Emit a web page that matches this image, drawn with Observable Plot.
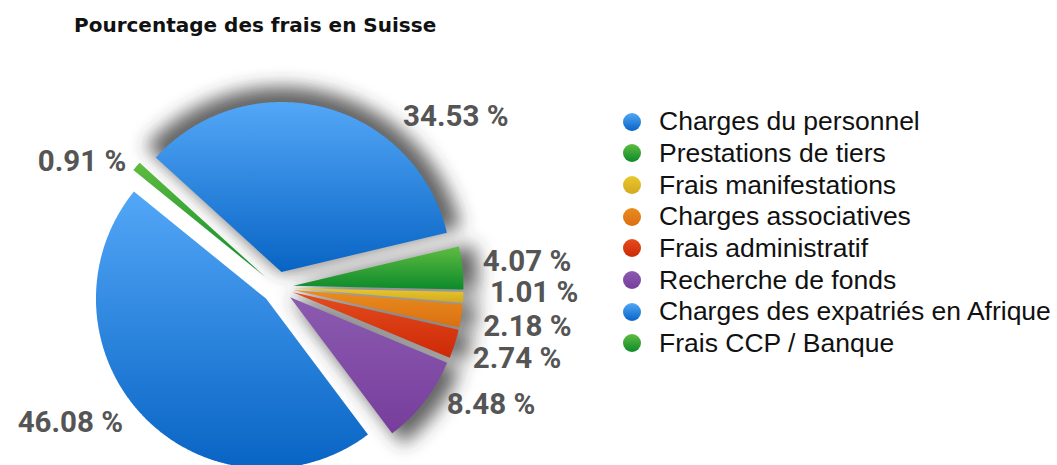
<!DOCTYPE html>
<html>
<head>
<meta charset="utf-8">
<script src="https://cdn.jsdelivr.net/npm/d3@7"></script>
<script src="https://cdn.jsdelivr.net/npm/@observablehq/plot@0.6"></script>
<style>
  body { margin: 0; background: #fff; }
  #wrap { position: relative; width: 1057px; height: 465px; overflow: hidden; background: #fff; }
  #title { height: 50px; box-sizing: border-box; padding-left: 74px; padding-top: 13px;
           font: 700 20px "DejaVu Sans", sans-serif; line-height: 24px; color: #111; letter-spacing: 0px; }
  #legend { position: absolute; left: 623px; top: 106px; font-family: "Liberation Sans", Arial, sans-serif;
            font-size: 26.5px; color: #111; }
  .row { height: 31.66px; display: flex; align-items: center; white-space: nowrap; }
  .dot { width: 18px; height: 18px; border-radius: 50%; margin-right: 18px; flex: none; }
</style>
</head>
<body>
<div id="wrap">
  <div id="title">Pourcentage des frais en Suisse</div>
  <div id="chart"></div>
  <div id="legend"></div>
</div>
<script>
// ---- data ----
const categories = [
  "Charges du personnel",
  "Prestations de tiers",
  "Frais manifestations",
  "Charges associatives",
  "Frais administratif",
  "Recherche de fonds",
  "Charges des expatriés en Afrique",
  "Frais CCP / Banque"
];
const values = [34.53, 4.07, 1.01, 2.18, 2.74, 8.48, 46.08, 0.91];
const valueLabels = ["34.53 %", "4.07 %", "1.01 %", "2.18 %", "2.74 %", "8.48 %", "46.08 %", "0.91 %"];

// ---- styles ----
const gradTop    = ["#53a7f7", "#5fbc40", "#e8c82e", "#ea8c1f", "#e44c1c", "#8b5bb0", "#53a7f7", "#5fbc40"];
const gradBottom = ["#0864c4", "#0c8a2b", "#d3a81e", "#da7011", "#cd2907", "#773d9c", "#0864c4", "#0c8a2b"];
const hasShadow  = [true, true, true, true, true, true, false, false];

// ---- layout ----
const W = 1057, H = 415;          // svg size
const R = 170;                    // pie radius in px
const cx = 277, cy = 237;         // pie centre in svg px
const startAngle = -47.7;         // degrees, clockwise from 12 o'clock
const explode = 16 / R;           // explode distance (in radius units)
const shadowRadius = 1.09, shadowInset = 0.6; // shadow ring (radius units) and angular inset (deg)
const labelAngleShift = [31.8, 0.2, -1.9, 0.1, -1.2, -9.2, 10.8, -7.9];
const labelRadius     = [1.452, 1.476, 1.51, 1.488, 1.469, 1.432, 1.455, 1.367];

const total = d3.sum(values);
let acc = 0;
const slices = values.map((v, i) => {
  const a0 = startAngle + acc / total * 360;
  acc += v;
  const a1 = startAngle + acc / total * 360;
  return {i, a0, a1, mid: (a0 + a1) / 2};
});
const rad = d => d * Math.PI / 180;

function wedge(s, r, inset) {
  const m = rad(s.mid);
  const ox = explode * Math.sin(m), oy = explode * Math.cos(m);
  const a0 = Math.min(s.mid, s.a0 + inset), a1 = Math.max(s.mid, s.a1 - inset);
  const out = [{k: s.i, x: ox, y: oy}];
  const n = Math.max(2, Math.ceil((a1 - a0) / 0.5));
  for (let j = 0; j <= n; j++) {
    const a = rad(a0 + (a1 - a0) * j / n);
    out.push({k: s.i, x: ox + r * Math.sin(a), y: oy + r * Math.cos(a)});
  }
  return out;
}
const pts = slices.flatMap(s => wedge(s, 1, 0));
const shadowPts = slices.filter(s => hasShadow[s.i]).flatMap(s => wedge(s, shadowRadius, shadowInset));

const labelData = slices.map(s => {
  const a = rad(s.mid + labelAngleShift[s.i]);
  return {text: valueLabels[s.i], x: labelRadius[s.i] * Math.sin(a), y: labelRadius[s.i] * Math.cos(a)};
});

const svg = Plot.plot({
  width: W, height: H,
  margin: 0,
  x: {domain: [-cx / R, (W - cx) / R], range: [0, W], axis: null},
  y: {domain: [-(H - cy) / R, cy / R], range: [H, 0], axis: null},
  color: {type: "identity"},
  style: {background: "white"},
  marks: [
    Plot.line(shadowPts, {x: "x", y: "y", z: "k", fill: "#3a3a3a", fillOpacity: 0.78, stroke: "none", curve: "linear-closed"}),
    Plot.line(pts, {x: "x", y: "y", z: "k", fill: d => `url(#g${d.k})`, stroke: "none", curve: "linear-closed"}),
    Plot.text(labelData, {x: "x", y: "y", text: "text", fill: "#555", fontSize: 29.5, fontWeight: 700,
                          fontFamily: "Roboto, sans-serif", textAnchor: "middle"})
  ]
});

const root = d3.select(svg);
const defs = root.insert("defs", ":first-child");
gradTop.forEach((t, i) => {
  const g = defs.append("linearGradient").attr("id", `g${i}`)
    .attr("x1", 0).attr("y1", 0).attr("x2", 0).attr("y2", 1);
  g.append("stop").attr("offset", "0%").attr("stop-color", t);
  g.append("stop").attr("offset", "100%").attr("stop-color", gradBottom[i]);
});
defs.append("filter").attr("id", "shadowBlur")
  .attr("filterUnits", "userSpaceOnUse").attr("x", 0).attr("y", 0).attr("width", W).attr("height", H)
  .append("feGaussianBlur").attr("stdDeviation", 9);
const lineGroups = root.selectAll('g[aria-label="line"]').nodes();
d3.select(lineGroups[0]).attr("filter", "url(#shadowBlur)");

document.getElementById("chart").appendChild(svg);

const legend = d3.select("#legend");
categories.forEach((c, i) => {
  const row = legend.append("div").attr("class", "row");
  row.append("span").attr("class", "dot")
    .style("background", `linear-gradient(${gradTop[i]}, ${gradBottom[i]})`);
  row.append("span").text(c);
});
</script>
</body>
</html>
